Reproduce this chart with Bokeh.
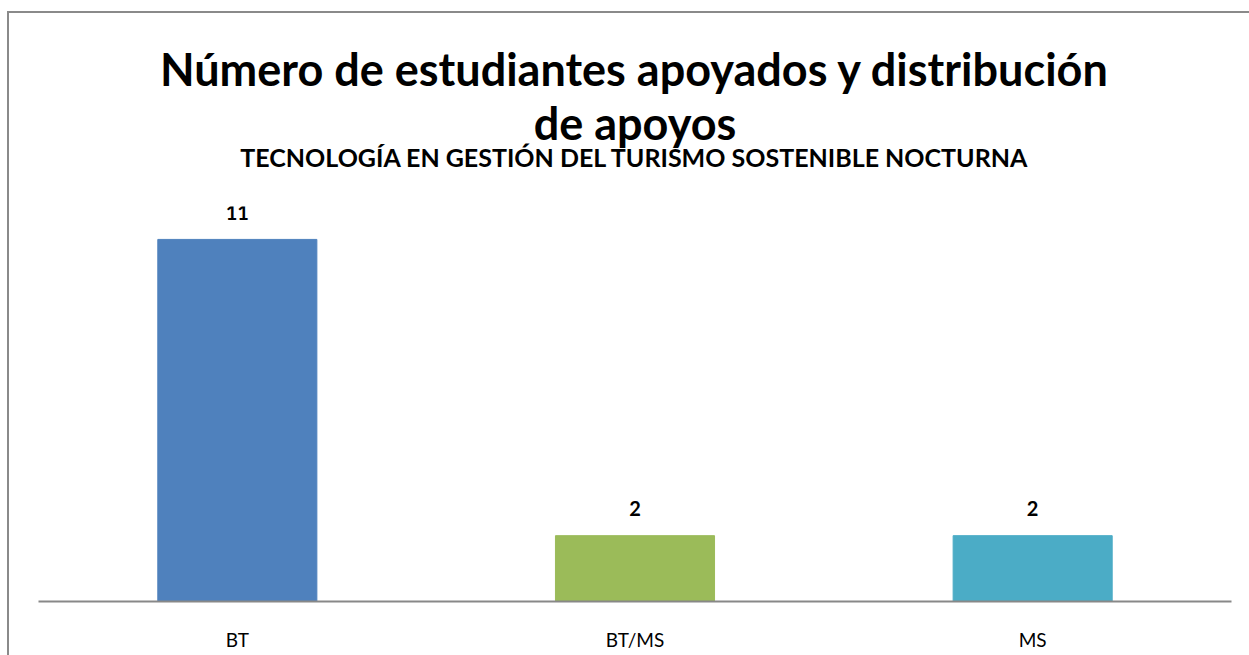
from bokeh.plotting import figure
from bokeh.models import ColumnDataSource, Title, LabelSet, Range1d
from bokeh.core.properties import value
from bokeh.embed import file_html
from bokeh.resources import INLINE

categories = ["BT", "BT/MS", "MS"]
values = [11, 2, 2]
colors = ["#4F81BD", "#9BBB59", "#4BACC6"]
labels = [str(v) for v in values]

title_line1 = "Número de estudiantes apoyados y distribución"
title_line2 = "de apoyos"
subtitle = "TECNOLOGÍA EN GESTIÓN DEL TURISMO SOSTENIBLE NOCTURNA"

src = ColumnDataSource(dict(cat=categories, val=values, color=colors, lab=labels))

p = figure(x_range=categories, y_range=Range1d(0, 12), width=1242, height=644,
           output_backend="svg", toolbar_location=None, title=None,
           min_border_left=29, min_border_right=20, min_border_bottom=56)

p.vbar(x="cat", top="val", width=0.4, color="color", source=src)
p.add_layout(LabelSet(x="cat", y="val", text="lab", source=src, y_offset=27,
                      text_align="center", text_baseline="middle",
                      text_font=value("Lato"), text_font_style="bold",
                      text_font_size="20px", text_color="#000000"))

# innermost spacer between subtitle and plot area
p.add_layout(Title(text=" ", align="center", text_font="Lato",
                   text_font_size="20px", standoff=16), "above")
p.add_layout(Title(text=subtitle, align="center", text_font="Lato",
                   text_font_style="bold", text_font_size="25px",
                   text_color="#000000", standoff=-15), "above")
p.add_layout(Title(text=title_line2, align="center", text_font="Lato",
                   text_font_style="bold", text_font_size="45px",
                   text_color="#000000", standoff=-4), "above")
p.add_layout(Title(text=title_line1, align="center", text_font="Lato",
                   text_font_style="bold", text_font_size="45px",
                   text_color="#000000", standoff=0), "above")
p.add_layout(Title(text=" ", align="center", text_font="Lato",
                   text_font_size="20px", standoff=0), "above")

p.yaxis.visible = False
p.xgrid.visible = False
p.ygrid.visible = False
p.outline_line_color = None
p.xaxis.axis_line_color = "#888888"
p.xaxis.axis_line_width = 2
p.xaxis.major_tick_line_color = None
p.xaxis.minor_tick_line_color = None
p.xaxis.major_label_text_font = "Lato"
p.xaxis.major_label_text_font_size = "19px"
p.xaxis.major_label_text_color = "#000000"
p.xaxis.major_label_standoff = 20
p.x_range.range_padding = 0
p.styles = {"margin-left": "7px", "margin-top": "11px",
            "border-left": "2px solid #8a8a8a", "border-top": "2px solid #8a8a8a"}

open("out.html", "w").write(file_html(p, INLINE))
